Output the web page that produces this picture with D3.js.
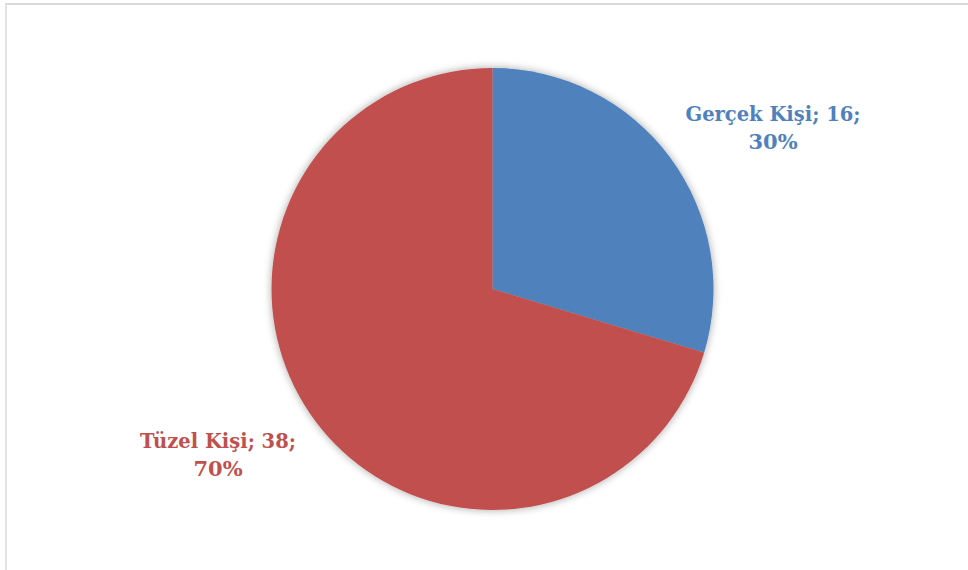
<!DOCTYPE html>
<html><head><meta charset="utf-8">
<script src="https://cdn.jsdelivr.net/npm/d3@7/dist/d3.min.js"></script>
<style>body{margin:0;background:#fff}svg{display:block}</style>
</head><body>
<svg id="c" width="968" height="570"></svg>
<script>
const categories = ["Gerçek Kişi", "Tüzel Kişi"];
const values = [16, 38];
const percents = ["30%", "70%"];
const colors = ["#4F81BD", "#C0504D"];

const svg = d3.select("#c");
// frame (top and left edges visible)
svg.append("line").attr("x1",5).attr("y1",4).attr("x2",968).attr("y2",4).attr("stroke","#d9d9d9").attr("stroke-width",2);
svg.append("line").attr("x1",6).attr("y1",4).attr("x2",6).attr("y2",570).attr("stroke","#e3e3e3").attr("stroke-width",2);

const defs = svg.append("defs");
const f = defs.append("filter").attr("id","sh").attr("x","-20%").attr("y","-20%").attr("width","140%").attr("height","140%");
f.append("feGaussianBlur").attr("in","SourceAlpha").attr("stdDeviation",4).attr("result","b");
f.append("feOffset").attr("in","b").attr("dx",0).attr("dy",0).attr("result","o");
f.append("feComponentTransfer").attr("in","o").attr("result","t").append("feFuncA").attr("type","linear").attr("slope",0.35);
const m = f.append("feMerge"); m.append("feMergeNode").attr("in","t"); m.append("feMergeNode").attr("in","SourceGraphic");

const cx = 492.5, cy = 289, r = 221;
const pie = d3.pie().sort(null).value(d => d)(values);
const arc = d3.arc().innerRadius(0).outerRadius(r);
const g = svg.append("g").attr("transform",`translate(${cx},${cy})`).attr("filter","url(#sh)");
g.selectAll("path").data(pie).join("path").attr("d",arc).attr("fill",(d,i)=>colors[i]);

const labelPos = [[773,121],[218,448]];
const lab = svg.append("g").attr("font-family","'DejaVu Serif', 'Liberation Serif', serif").attr("font-weight","bold").attr("font-size","19.5px").attr("text-anchor","middle");
categories.forEach((c,i)=>{
  const t = lab.append("text").attr("fill",colors[i]).attr("x",labelPos[i][0]).attr("y",labelPos[i][1]);
  t.append("tspan").attr("x",labelPos[i][0]).text(`${c}; ${values[i]};`);
  t.append("tspan").attr("x",labelPos[i][0]).attr("dy",28).attr("font-size","21px").text(percents[i]);
});
</script>
</body></html>
